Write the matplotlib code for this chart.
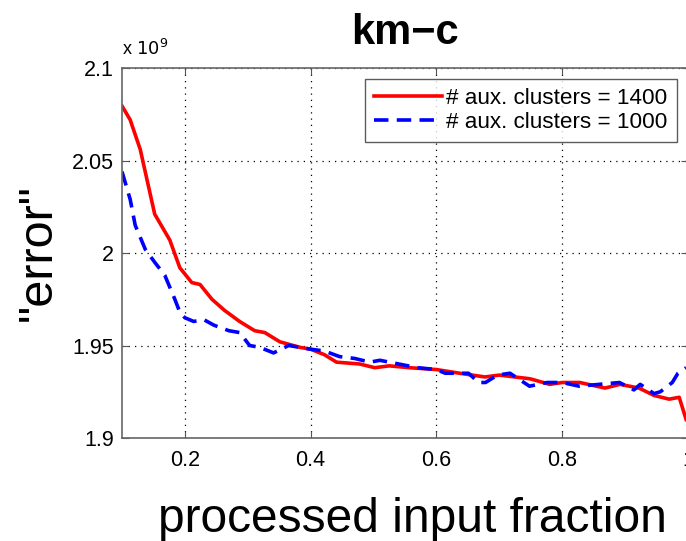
import matplotlib.pyplot as plt
import numpy as np

plt.rcParams['font.family'] = ['Liberation Sans', 'DejaVu Sans']

# processed input fraction vs. "error" (in units of 1e9)
frac_1400 = [0.100, 0.113, 0.129, 0.152, 0.176, 0.192, 0.211, 0.224, 0.243, 0.263,
             0.287, 0.311, 0.327, 0.351, 0.383, 0.400, 0.422, 0.441, 0.478, 0.502,
             0.525, 0.557, 0.600, 0.637, 0.677, 0.700, 0.749, 0.780, 0.800, 0.828,
             0.868, 0.892, 0.922, 0.946, 0.970, 0.986, 0.997]
err_1400 = [2.0795, 2.072, 2.056, 2.021, 2.007, 1.992, 1.984, 1.983, 1.975, 1.969,
            1.963, 1.958, 1.957, 1.952, 1.949, 1.948, 1.945, 1.941, 1.940, 1.938,
            1.939, 1.938, 1.937, 1.935, 1.933, 1.934, 1.932, 1.929, 1.930, 1.930,
            1.927, 1.929, 1.927, 1.923, 1.921, 1.922, 1.910]

frac_1000 = [0.100, 0.113, 0.121, 0.137, 0.152, 0.168, 0.184, 0.192, 0.200, 0.214,
             0.230, 0.246, 0.270, 0.287, 0.303, 0.319, 0.341, 0.365, 0.400, 0.422,
             0.446, 0.470, 0.494, 0.510, 0.540, 0.570, 0.600, 0.614, 0.651, 0.667,
             0.678, 0.697, 0.717, 0.748, 0.776, 0.800, 0.827, 0.859, 0.891, 0.914,
             0.924, 0.946, 0.956, 0.975, 0.984, 0.997]
err_1000 = [2.044, 2.029, 2.015, 2.002, 1.995, 1.988, 1.975, 1.968, 1.965, 1.963,
            1.964, 1.961, 1.958, 1.957, 1.950, 1.949, 1.946, 1.950, 1.948, 1.947,
            1.944, 1.943, 1.941, 1.942, 1.940, 1.938, 1.937, 1.935, 1.935, 1.930,
            1.930, 1.934, 1.935, 1.928, 1.930, 1.930, 1.928, 1.929, 1.930, 1.926,
            1.929, 1.924, 1.925, 1.930, 1.935, 1.938]

xticks = [0.2, 0.4, 0.6, 0.8, 1.0]
xticklabels = ['0.2', '0.4', '0.6', '0.8', '1']
yticks = [1.9, 1.95, 2.0, 2.05, 2.1]
yticklabels = ['1.9', '1.95', '2', '2.05', '2.1']

fig = plt.figure(figsize=(6.86, 5.41), dpi=100)
ax = fig.add_axes([122 / 686, 1 - 438 / 541, 566 / 686, 370 / 541])

ax.plot(frac_1400, err_1400, color='red', lw=2.6, label='# aux. clusters = 1400')
ax.plot(frac_1000, err_1000, color='blue', lw=2.6, ls=(0, (4, 2.3)),
        label='# aux. clusters = 1000')

ax.set_xlim(0.1, 1.0)
ax.set_ylim(1.9, 2.1)
ax.set_xticks(xticks)
ax.set_xticklabels(xticklabels)
ax.set_yticks(yticks)
ax.set_yticklabels(yticklabels)
ax.tick_params(direction='in', top=True, right=True, labelsize=15.5, length=5,
               color='#555555')
ax.tick_params(axis='x', pad=9)
ax.tick_params(axis='y', pad=6)
ax.grid(True, color='black', ls=(0, (1, 4)), lw=0.9)
for s in ax.spines.values():
    s.set_color('#666666')
    s.set_linewidth(1.2)

ax.text(0.0, 1.025, r'x $10^{9}$', transform=ax.transAxes, fontsize=13,
        ha='left', va='bottom')
fig.text(405 / 686, 1 - 33 / 541, 'km\u2212c', fontsize=30, fontweight='bold',
         ha='center', va='center')
fig.text(38 / 686, 1 - 253 / 541, '"error"', fontsize=35, rotation=90,
         ha='center', va='center')
fig.text(412 / 686, 1 - 519 / 541, 'processed input fraction', fontsize=34.5,
         ha='center', va='center')

leg = ax.legend(loc='upper right', bbox_to_anchor=(0.98, 0.97), fontsize=16.2,
                frameon=True, fancybox=False, edgecolor='#333333',
                handlelength=3.0, handletextpad=0.2, borderpad=0.4,
                labelspacing=0.12, borderaxespad=0)
leg.get_frame().set_linewidth(1.0)

fig.savefig('out.png', dpi=100)
